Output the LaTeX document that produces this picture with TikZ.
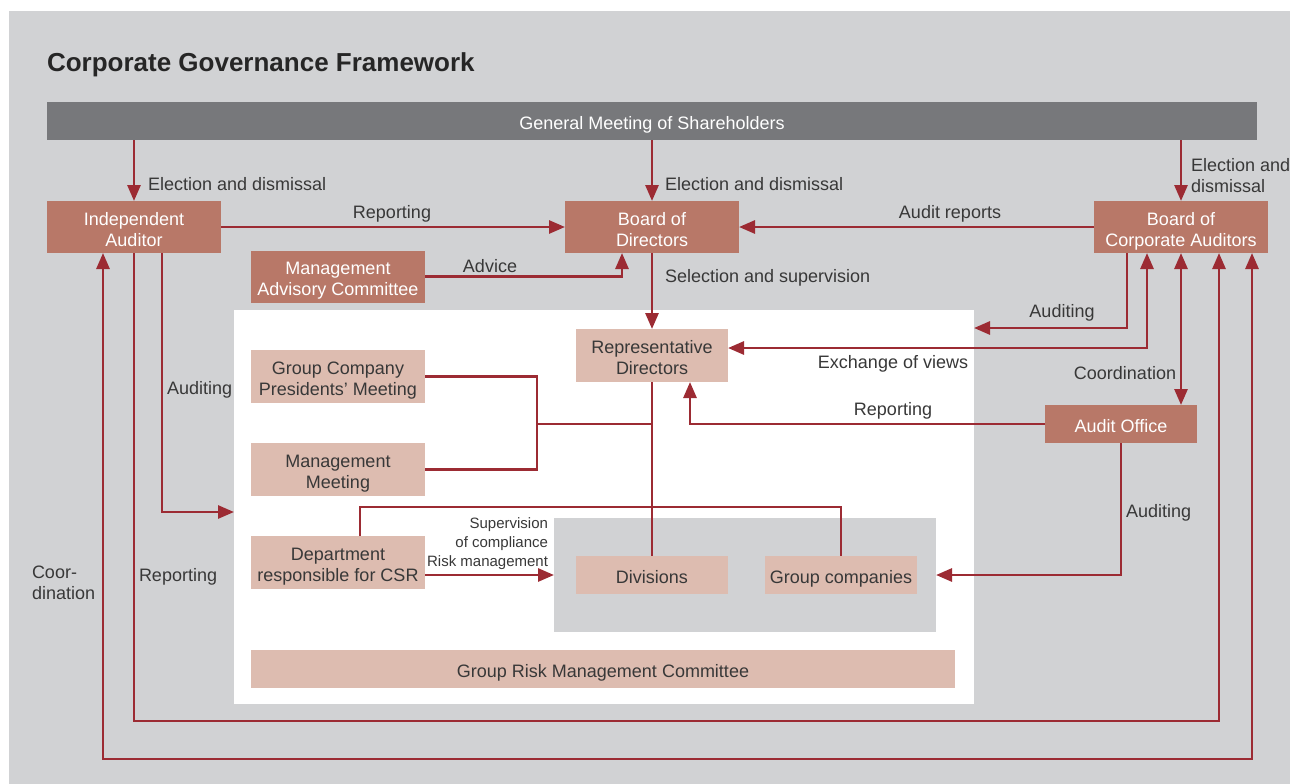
\documentclass[tikz,border=0pt]{standalone}
\usepackage{fontspec}
\setmainfont{Liberation Sans}
\usetikzlibrary{arrows.meta}

\definecolor{bggray}{HTML}{D1D2D4}
\definecolor{bargray}{HTML}{77787B}
\definecolor{terra}{HTML}{B87868}
\definecolor{blush}{HTML}{DDBCB0}
\definecolor{wine}{HTML}{9C2B33}
\definecolor{ink}{HTML}{383838}

\newcommand\boxfont{\fontsize{18}{21}\selectfont}
\newcommand\smallfont{\fontsize{15}{19}\selectfont}
% fixed first-line height and last-line depth, so text sits the same in every box
\newcommand\topstrut{\rule{0pt}{20.5pt}}
\newcommand\botstrut{\rule[-4pt]{0pt}{4pt}}
% two centred lines with a raised first row
\newcommand\twolines[2]{\begin{tabular}{@{}c@{}}\rule{0pt}{23.3pt}#1\\#2\end{tabular}}

\tikzset{
  every node/.style={inner sep=0pt, outer sep=0pt},
  boxtext/.style={align=center, font=\boxfont,
    execute at begin node=\topstrut, execute at end node=\botstrut},
  dark/.style={boxtext, fill=terra, text=white},
  pale/.style={boxtext, fill=blush, text=ink},
  dark2/.style={font=\boxfont, fill=terra, text=white},
  pale2/.style={font=\boxfont, fill=blush, text=ink},
  lbl/.style={text=ink, font=\boxfont},
  tip/.tip={Triangle[length=16pt,width=13pt]},
  arr/.style={draw=wine, line width=2.8pt, -tip},
  arr2/.style={draw=wine, line width=2.8pt, tip-tip},
  ln/.style={draw=wine, line width=2.8pt},
}

\begin{document}
\begin{tikzpicture}[x=1pt,y=-1pt]
  \useasboundingbox (0,0) rectangle (1290,784);
  \fill[bggray] (9,11) rectangle (1290,784);

  % title
  \node[anchor=base west, text=black!85, font=\fontsize{26}{30}\selectfont\bfseries] (title) at (47,71) {Corporate Governance Framework};

  % containers
  \node[fill=white, minimum width=740pt, minimum height=394pt] (panel) at (604,507) {};
  \node[fill=bggray, minimum width=382pt, minimum height=114pt] (inner) at (745,575) {};

  % bodies
  \node[boxtext, fill=bargray, text=white, minimum width=1210pt, minimum height=38pt] (gm) at (652,121) {General Meeting of Shareholders};
  \node[dark2, minimum width=174pt, minimum height=52pt] (ia) at (134,227) {\twolines{Independent}{Auditor}};
  \node[dark2, minimum width=174pt, minimum height=52pt] (bd) at (652,227) {\twolines{Board of}{Directors}};
  \node[dark2, minimum width=174pt, minimum height=52pt] (bca) at (1181,227) {\twolines{Board of}{Corporate Auditors}};
  \node[dark2, minimum width=174pt, minimum height=52pt] (mac) at (338,276.5) {\twolines{Management}{Advisory Committee}};
  \node[dark, minimum width=152pt, minimum height=38pt] (ao) at (1121,424) {Audit Office};

  \node[pale2, minimum width=152pt, minimum height=53pt] (rd) at (652,355.5) {\twolines{Representative}{Directors}};
  \node[pale2, minimum width=174pt, minimum height=53pt] (gcpm) at (338,376.5) {\twolines{Group Company}{Presidents’ Meeting}};
  \node[pale2, minimum width=174pt, minimum height=53pt] (mm) at (338,469.5) {\twolines{Management}{Meeting}};
  \node[pale2, minimum width=174pt, minimum height=53pt] (csr) at (338,562.5) {\twolines{Department}{responsible for CSR}};
  \node[pale, minimum width=152pt, minimum height=38pt] (div) at (652,575) {Divisions};
  \node[pale, minimum width=152pt, minimum height=38pt] (gc) at (841,575) {Group companies};
  \node[pale, minimum width=704pt, minimum height=38pt] (grmc) at (603,669) {Group Risk Management Committee};

  % helper levels for routed connectors
  \coordinate (lowA) at (0,721);
  \coordinate (lowB) at (0,759);
  \coordinate (audA) at (0,512);
  \coordinate (csrY) at (0,507);
  \coordinate (jx) at (537,424);

  % elections
  \draw[arr] (ia.north |- gm.south) -- (ia.north);
  \draw[arr] (bd.north |- gm.south) -- (bd.north);
  \draw[arr] (bca.north |- gm.south) -- (bca.north);

  % reporting lines into the board
  \draw[arr] (ia.east) -- (bd.west);
  \draw[arr] (bca.west) -- (bd.east);
  \draw[arr] (mac.east) -| ([xshift=-30pt]bd.south);
  \draw[arr] (bd.south) -- (rd.north);

  % corporate auditors
  \draw[arr] ([xshift=-54pt]bca.south) |- ([yshift=-18pt]panel.north east);
  \draw[arr2] ([xshift=-34pt]bca.south) |- ([yshift=7.5pt]rd.east);
  \draw[arr2] (bca.south) -- (bca.south |- ao.north);

  % audit office
  \draw[arr] (ao.west) -| ([xshift=38pt]rd.south);
  \draw[arr] (ao.south) |- (inner.east);

  % independent auditor loops
  \draw[arr] (ia.south) -- (ia.south |- lowA) -| ([xshift=38pt]bca.south);
  \draw[arr2] ([xshift=-31pt]ia.south) -- ([xshift=-31pt]ia.south |- lowB) -| ([xshift=71pt]bca.south);
  \draw[arr] ([xshift=28pt]ia.south) |- (panel.west |- audA);

  % execution structure
  \draw[ln] (gcpm.east) -| (jx) |- (mm.east);
  \draw[ln] (jx) -- (jx -| rd.south);
  \draw[ln] (rd.south) -- (div.north);
  \draw[ln] ([xshift=22pt]csr.north) -- ([xshift=22pt]csr.north |- csrY) -| (gc.north);
  \draw[arr] ([yshift=-12.5pt]csr.east) -- ([yshift=-12.5pt]csr.east -| inner.west);

  % connector labels
  \node[lbl, anchor=base west] at (148,190) {Election and dismissal};
  \node[lbl, anchor=base west] at (665,190) {Election and dismissal};
  \node[lbl, anchor=west, align=left] at (1191,176) {Election and\\dismissal};
  \node[lbl, anchor=base] at (392,218) {Reporting};
  \node[lbl, anchor=base] at (950,218) {Audit reports};
  \node[lbl, anchor=base] at (490,272) {Advice};
  \node[lbl, anchor=base west] at (665,282) {Selection and supervision};
  \node[lbl, anchor=base] at (1062,317) {Auditing};
  \node[lbl, anchor=base] at (893,368) {Exchange of views};
  \node[lbl, anchor=base] at (1125,379) {Coordination};
  \node[lbl, anchor=base] at (893,415) {Reporting};
  \node[lbl, anchor=base west] at (1126,517) {Auditing};
  \node[lbl, anchor=base west] at (167,394) {Auditing};
  \node[lbl, anchor=west, align=left] at (32,582.5) {Coor-\\dination};
  \node[lbl, anchor=base west] at (139,581) {Reporting};
  \node[text=ink, font=\smallfont, anchor=east, align=right] at (548,544) {Supervision\\of compliance\\Risk management};
\end{tikzpicture}
\end{document}
